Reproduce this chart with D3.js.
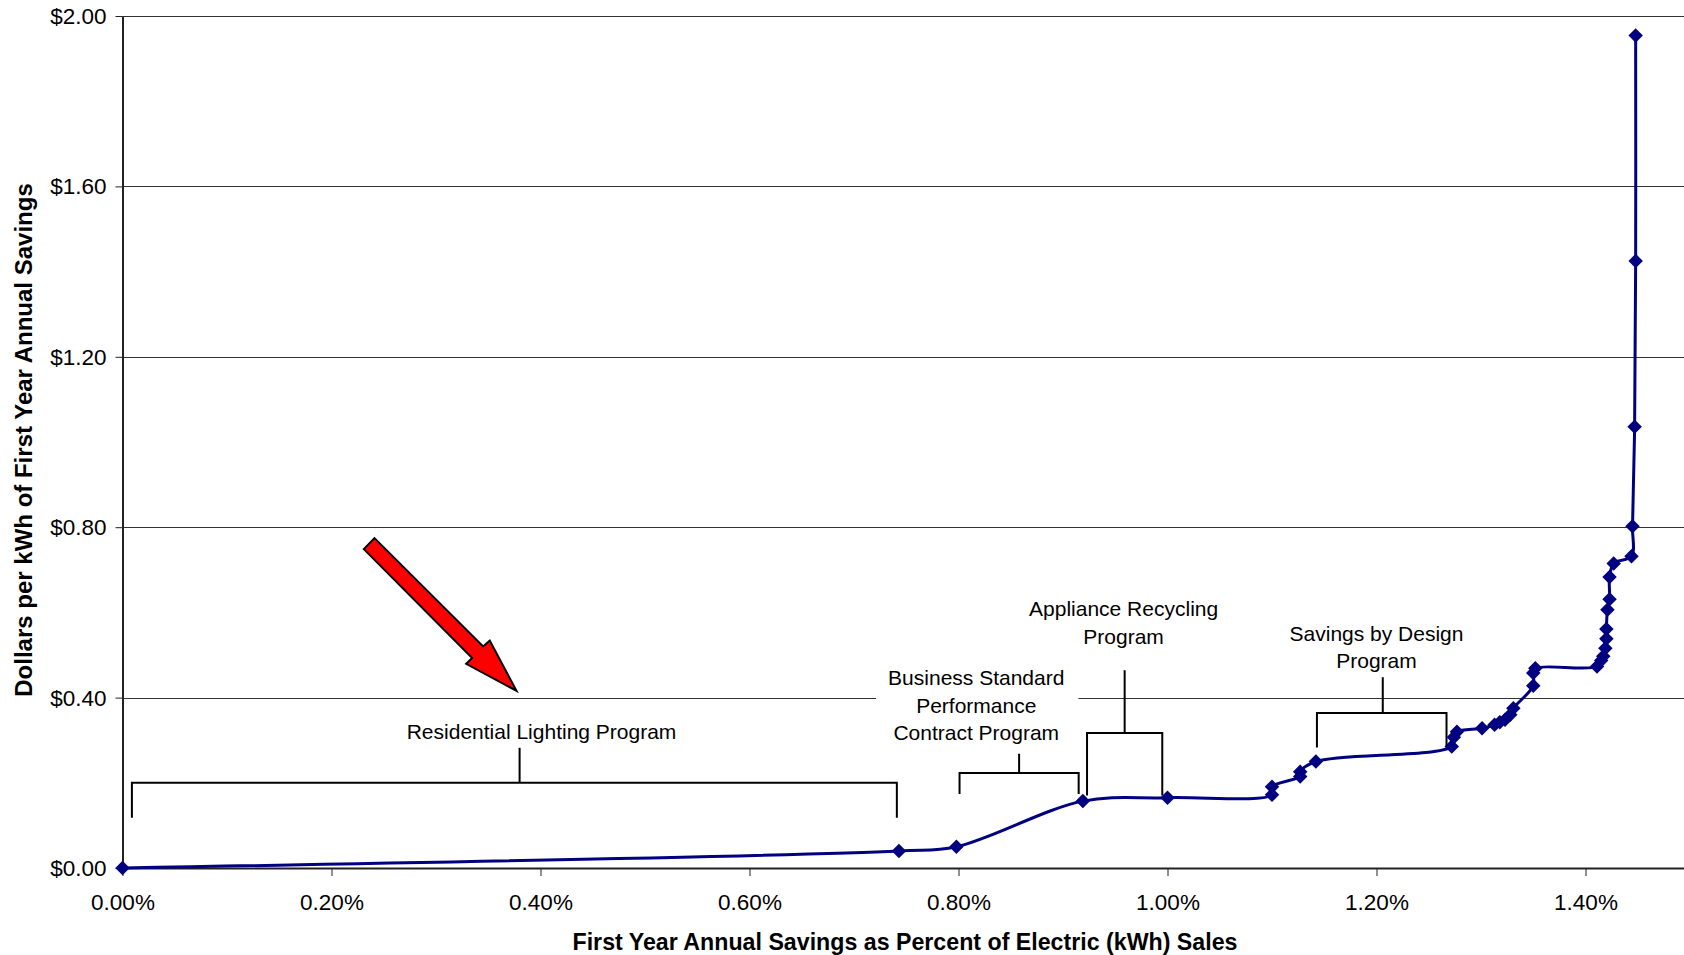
<!DOCTYPE html>
<html>
<head>
<meta charset="utf-8">
<script src="https://cdn.jsdelivr.net/npm/d3@7"></script>
<style>
  body { margin: 0; background: #fff; }
  svg { display: block; font-family: Arial, "Liberation Sans", sans-serif; }
  .grid line { stroke: #333; stroke-width: 1; }
  .axis path, .axis line { stroke: #222; }
  .axis text { font-size: 22.5px; fill: #000; }
  .note { font-size: 21px; fill: #000; }
  .bracket { fill: none; stroke: #000; stroke-width: 2; }
</style>
</head>
<body>
<svg id="chart"></svg>
<script>
// data (x = % of sales, y = $ per kWh)
var savingsPct = [0, 0.743, 0.798, 0.919, 1.000, 1.100, 1.100, 1.127, 1.127, 1.142,
    1.272, 1.274, 1.277, 1.301, 1.313, 1.318, 1.323, 1.328, 1.331, 1.350,
    1.350, 1.352, 1.411, 1.415, 1.417, 1.419, 1.420, 1.420, 1.421, 1.423,
    1.423, 1.427, 1.444, 1.445, 1.447, 1.448, 1.448];
var dollarsPerKwh = [0, 0.040, 0.050, 0.157, 0.165, 0.172, 0.191, 0.215, 0.226, 0.250,
    0.285, 0.307, 0.320, 0.328, 0.336, 0.342, 0.348, 0.360, 0.375, 0.428,
    0.458, 0.469, 0.473, 0.487, 0.497, 0.516, 0.538, 0.561, 0.606, 0.631,
    0.683, 0.715, 0.732, 0.802, 1.036, 1.425, 1.954];

var xTicks = [0, 0.2, 0.4, 0.6, 0.8, 1.0, 1.2, 1.4];
var yTicks = [0, 0.4, 0.8, 1.2, 1.6, 2.0];

// program brackets: x0/x1 ends, xMid stem, yBar bar level, yFoot end of legs, yTop stem top
var bracketNames = ["Residential Lighting", "Business Standard", "Appliance Recycling", "Savings by Design"];
var bracketX0 = [0.009, 0.801, 0.923, 1.143];
var bracketX1 = [0.741, 0.915, 0.995, 1.267];
var bracketMid = [0.380, 0.858, 0.959, 1.206];
var bracketBar = [0.200, 0.223, 0.317, 0.364];
var bracketFoot = [0.118, 0.174, 0.170, 0.283];
var bracketTop = [0.282, 0.268, 0.464, 0.448];

var noteLines = [
    ["Residential Lighting Program"],
    ["Business Standard", "Performance", "Contract Program"],
    ["Appliance Recycling", "Program"],
    ["Savings by Design", "Program"]
];
var noteX = [0.401, 0.817, 0.958, 1.200];
var noteY = [0.321, 0.447, 0.609, 0.551];

var arrowTip = [0.377, 0.416];

var width = 1684;
var height = 955;

var svg = d3.select("#chart")
    .attr("width", width)
    .attr("height", height);

// x range runs past the right edge, as in the cropped original
var x = d3.scaleLinear().domain([0, 1.6]).range([122.5, 1794.5]);
var y = d3.scaleLinear().domain([0, 2]).range([868, 16]);

// gridlines
svg.append("g")
    .attr("class", "grid")
    .selectAll("line")
    .data(yTicks.slice(1))
    .enter().append("line")
    .attr("x1", x(0))
    .attr("x2", width)
    .attr("y1", function (d) { return Math.round(y(d)) + 0.5; })
    .attr("y2", function (d) { return Math.round(y(d)) + 0.5; });

// axes
var xAxis = svg.append("g")
    .attr("class", "axis")
    .attr("transform", "translate(0," + y(0) + ")")
    .call(d3.axisBottom(x).tickValues(xTicks).tickSize(8).tickSizeOuter(0)
        .tickFormat(function (d) { return d.toFixed(2) + "%"; }));
xAxis.select(".domain").attr("stroke-width", 2);
xAxis.selectAll("text").attr("dy", null).attr("y", 34).attr("dominant-baseline", "central");

var yAxis = svg.append("g")
    .attr("class", "axis")
    .attr("transform", "translate(" + x(0) + ",0)")
    .call(d3.axisLeft(y).tickValues(yTicks).tickSize(7).tickSizeOuter(0)
        .tickFormat(function (d) { return "$" + d.toFixed(2); }));
yAxis.select(".domain").attr("stroke-width", 2);
yAxis.selectAll("text").attr("dy", null).attr("x", -16).attr("dominant-baseline", "central");

// axis titles
svg.append("text")
    .attr("x", 905)
    .attr("y", 942)
    .attr("text-anchor", "middle")
    .attr("dominant-baseline", "central")
    .style("font-size", "23.2px")
    .style("font-weight", "bold")
    .text("First Year Annual Savings as Percent of Electric (kWh) Sales");

svg.append("text")
    .attr("transform", "translate(23,440) rotate(-90)")
    .attr("text-anchor", "middle")
    .attr("dominant-baseline", "central")
    .style("font-size", "24px")
    .style("font-weight", "bold")
    .text("Dollars per kWh of First Year Annual Savings");

// brackets
bracketNames.forEach(function (name, i) {
    var p = d3.path();
    p.moveTo(x(bracketX0[i]), y(bracketFoot[i]));
    p.lineTo(x(bracketX0[i]), y(bracketBar[i]));
    p.lineTo(x(bracketX1[i]), y(bracketBar[i]));
    p.lineTo(x(bracketX1[i]), y(bracketFoot[i]));
    p.moveTo(x(bracketMid[i]), y(bracketBar[i]));
    p.lineTo(x(bracketMid[i]), y(bracketTop[i]));
    svg.append("path").attr("class", "bracket").attr("d", p.toString());
});

// notes
noteLines.forEach(function (lines, i) {
    var g = svg.append("g");
    var t = g.append("text")
        .attr("class", "note")
        .attr("text-anchor", "middle");
    lines.forEach(function (line, j) {
        t.append("tspan")
            .attr("x", x(noteX[i]))
            .attr("y", y(noteY[i]) + j * 27.5)
            .attr("dominant-baseline", "central")
            .text(line);
    });
    // the business label covers the gridline behind it
    if (i == 1) {
        var bb = t.node().getBBox();
        g.insert("rect", "text")
            .attr("x", bb.x - 12)
            .attr("y", bb.y - 4)
            .attr("width", bb.width + 26)
            .attr("height", bb.height + 8)
            .attr("fill", "#fff");
    }
});

// red arrow
var tip = [x(arrowTip[0]), y(arrowTip[1])];
var arrowShape = [[-152.7, -141.7], [-142, -152.7], [-33.3, -44.3], [-26.7, -50.3],
    [0, 0], [-50.3, -27], [-44.3, -32.7]];
svg.append("polygon")
    .attr("points", arrowShape.map(function (d) {
        return [tip[0] + d[0], tip[1] + d[1]].join(",");
    }).join(" "))
    .attr("fill", "#ff0000")
    .attr("stroke", "#000")
    .attr("stroke-width", 2)
    .attr("stroke-linejoin", "miter");

// curve
var points = savingsPct.map(function (d, i) { return [d, dollarsPerKwh[i]]; });

var line = d3.line()
    .x(function (d) { return x(d[0]); })
    .y(function (d) { return y(d[1]); })
    .curve(d3.curveCatmullRom);

svg.append("path")
    .datum(points)
    .attr("fill", "none")
    .attr("stroke", "#000080")
    .attr("stroke-width", 3)
    .attr("d", line);

svg.selectAll(".pt")
    .data(points)
    .enter().append("path")
    .attr("class", "pt")
    .attr("d", d3.symbol().type(d3.symbolSquare).size(105))
    .attr("fill", "#000080")
    .attr("transform", function (d) {
        return "translate(" + x(d[0]) + "," + y(d[1]) + ") rotate(45)";
    });
</script>
</body>
</html>
